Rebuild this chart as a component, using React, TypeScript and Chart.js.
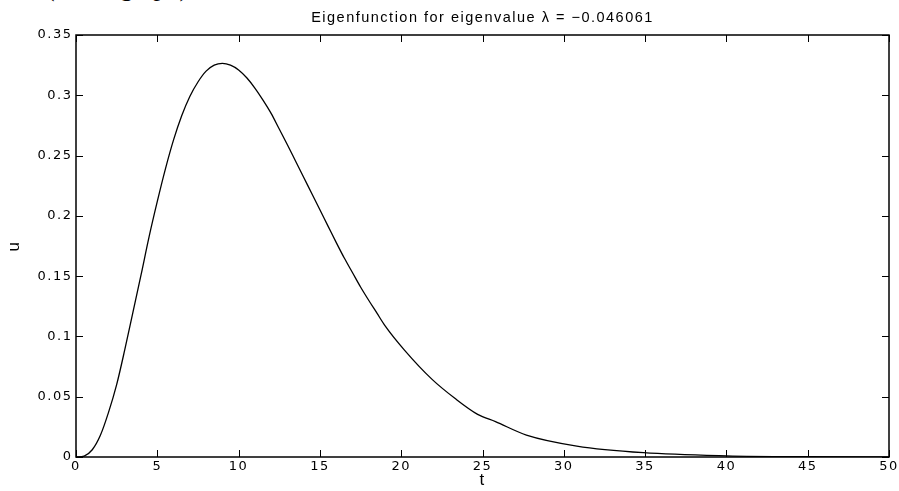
import React, { useEffect, useRef } from "react";
import { Chart, registerables } from "chart.js";

Chart.register(...registerables);

// ---- data ----
const tValues = [
  0, 0.5, 1, 1.5, 2, 2.5, 3, 3.5, 4, 4.5, 5, 5.5, 6, 6.5, 7, 7.5, 8, 8.5, 9, 9.5,
  10, 10.5, 11, 11.5, 12, 12.5, 13, 13.5, 14, 14.5, 15, 15.5, 16, 16.5, 17, 17.5,
  18, 18.5, 19, 20.2, 21.9, 23.3, 24.7, 25.8, 27.7, 30.8, 34.9, 40, 45, 50,
];
const uValues = [
  0, 0.0008, 0.006, 0.018, 0.037, 0.06, 0.089, 0.12, 0.151, 0.183, 0.212, 0.239,
  0.263, 0.283, 0.299, 0.311, 0.32, 0.325, 0.3265, 0.325, 0.321, 0.3145, 0.306,
  0.296, 0.285, 0.272, 0.259, 0.2455, 0.232, 0.2185, 0.205, 0.1915, 0.178, 0.165,
  0.153, 0.141, 0.13, 0.1195, 0.109, 0.0887, 0.0644, 0.0487, 0.0354, 0.0293,
  0.0182, 0.0091, 0.0036, 0.001, 0.0002, 0,
];
const xTickValues = [0, 5, 10, 15, 20, 25, 30, 35, 40, 45, 50];
const xTickLabels = ["0", "5", "10", "15", "20", "25", "30", "35", "40", "45", "50"];
const yTickValues = [0, 0.05, 0.1, 0.15, 0.2, 0.25, 0.3, 0.35];
const yTickLabels = ["0", "0.05", "0.1", "0.15", "0.2", "0.25", "0.3", "0.35"];
const titleText = "Eigenfunction for eigenvalue \u03BB = \u22120.046061";
const xAxisLabel = "t";
const yAxisLabel = "u";
const captionFragment = "(linear graph)";

const W = 899;
const H = 491;

const spacingPlugin = {
  id: "letterSpacing",
  beforeLayout(chart: any) {
    chart.ctx.letterSpacing = "1.5px";
  },
  beforeDraw(chart: any) {
    chart.ctx.letterSpacing = "1.5px";
  },
};

const framePlugin = {
  id: "matlabFrame",
  afterDraw(chart: any) {
    const { ctx, chartArea, scales } = chart;
    const { left, right, top, bottom } = chartArea;
    const tl = 7;
    ctx.save();
    ctx.strokeStyle = "#000";
    ctx.lineWidth = 1;
    ctx.beginPath();
    scales.x.ticks.forEach((tk: any) => {
      const px = Math.round(scales.x.getPixelForValue(tk.value)) + 0.5;
      ctx.moveTo(px, bottom);
      ctx.lineTo(px, bottom - tl);
      ctx.moveTo(px, top);
      ctx.lineTo(px, top + tl);
    });
    scales.y.ticks.forEach((tk: any) => {
      const py = Math.round(scales.y.getPixelForValue(tk.value)) + 0.5;
      ctx.moveTo(left, py);
      ctx.lineTo(left + tl, py);
      ctx.moveTo(right, py);
      ctx.lineTo(right - tl, py);
    });
    ctx.stroke();
    ctx.lineWidth = 1.5;
    ctx.strokeRect(left, top, right - left, bottom - top);
    ctx.restore();
  },
};

export default function App() {
  const ref = useRef<HTMLCanvasElement | null>(null);

  useEffect(() => {
    if (!ref.current) return;
    const points = tValues.map((t, i) => ({ x: t, y: uValues[i] }));
    const tickFont = { family: "'DejaVu Sans', sans-serif", size: 13 };
    const labelFont = { family: "'Liberation Sans', Arial, sans-serif", size: 17, lineHeight: 1.2 };
    const chart = new Chart(ref.current, {
      type: "line",
      data: {
        datasets: [
          {
            data: points,
            borderColor: "#000",
            borderWidth: 1.3,
            pointRadius: 0,
            fill: false,
            cubicInterpolationMode: "monotone",
          },
        ],
      },
      options: {
        animation: false,
        responsive: false,
        devicePixelRatio: 1,
        layout: { padding: { left: 0, right: 10, top: 0, bottom: 0 } },
        plugins: {
          legend: { display: false },
          tooltip: { enabled: false },
          title: {
            display: true,
            text: titleText,
            fullSize: false,
            color: "#000",
            font: { family: "'Liberation Sans', Arial, sans-serif", size: 14.5, weight: "normal", lineHeight: 1.2 },
            padding: { top: 9.5, bottom: 8.1 },
          },
        },
        scales: {
          x: {
            type: "linear",
            min: 0,
            max: 50,
            afterBuildTicks: (scale: any) => {
              scale.ticks = xTickValues.map((v) => ({ value: v }));
            },
            afterFit: (scale: any) => {
              scale.height = 34;
              scale.paddingLeft = 0;
              scale.paddingRight = 0;
            },
            grid: { display: false, drawTicks: false },
            border: { display: false },
            ticks: {
              autoSkip: false,
              maxRotation: 0,
              color: "#000",
              font: tickFont,
              padding: 2,
              callback: (_v: any, i: number) => xTickLabels[i],
            },
            title: {
              display: true,
              text: xAxisLabel,
              color: "#000",
              font: labelFont,
              padding: { top: 0, bottom: 0 },
            },
          },
          y: {
            type: "linear",
            min: 0,
            max: 0.35,
            afterBuildTicks: (scale: any) => {
              scale.ticks = yTickValues.map((v) => ({ value: v }));
            },
            afterFit: (scale: any) => {
              scale.width = 76;
              scale.paddingTop = 0;
              scale.paddingBottom = 0;
            },
            grid: { display: false, drawTicks: false },
            border: { display: false },
            ticks: {
              autoSkip: false,
              color: "#000",
              font: tickFont,
              padding: 3.5,
              callback: (_v: any, i: number) => yTickLabels[i],
            },
            title: {
              display: true,
              text: yAxisLabel,
              color: "#000",
              font: labelFont,
              padding: { top: 4, bottom: 0 },
            },
          },
        },
      },
      plugins: [spacingPlugin, framePlugin],
    } as any);
    return () => chart.destroy();
  }, []);

  return (
    <div style={{ position: "absolute", left: 0, top: 0, width: W, height: H, background: "#fff", overflow: "hidden" }}>
      <div
        style={{
          position: "absolute",
          left: 46,
          top: -27,
          fontFamily: "'Liberation Serif', serif",
          fontSize: 26,
          lineHeight: "30px",
          color: "#000",
          whiteSpace: "nowrap",
        }}
      >
        {captionFragment}
      </div>
      <canvas
        ref={ref}
        width={W}
        height={H}
        style={{ position: "absolute", left: 0, top: 0, width: W, height: H }}
      />
    </div>
  );
}
